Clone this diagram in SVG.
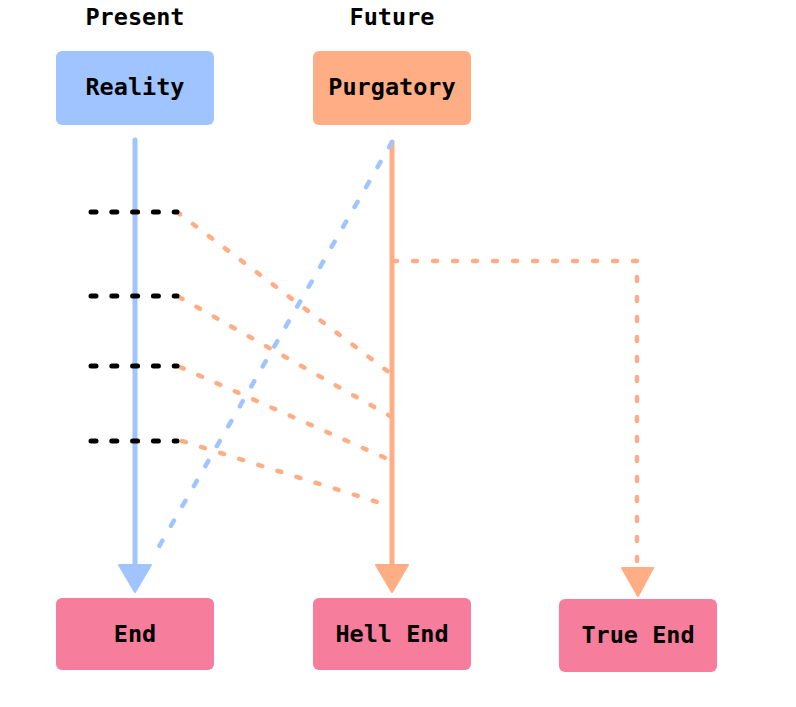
<svg xmlns="http://www.w3.org/2000/svg" width="796" height="707" viewBox="0 0 796 707">
<style>
  .lbl { font-family: "DejaVu Sans Mono", "Liberation Mono", monospace; font-weight: bold; font-size: 23.5px; fill: #000; text-anchor: middle; }
  .blue { fill: #A0C4FF; }
  .orange { fill: #FFAD85; }
  .pink { fill: #F67D9C; }
  .dots { stroke: #000; stroke-width: 5; stroke-linecap: round; stroke-dasharray: 5 15.8; fill: none; }
  .odash { stroke: #FFAD85; stroke-width: 4.5; stroke-linecap: round; stroke-dasharray: 4 16; fill: none; }
  .bdash { stroke: #A0C4FF; stroke-width: 4.5; stroke-linecap: round; stroke-dasharray: 6 17; fill: none; }
</style>
<rect width="796" height="707" fill="#fff"/>
<g id="headers">
  <text class="lbl" x="135" y="25">Present</text>
  <text class="lbl" x="392" y="25">Future</text>
</g>
<g id="reality"><rect class="blue" x="56" y="51" width="158" height="74" rx="6"/><text class="lbl" x="135" y="95">Reality</text></g>
<g id="purgatory"><rect class="orange" x="313" y="51" width="158" height="74" rx="6"/><text class="lbl" x="392" y="95">Purgatory</text></g>
<g id="end"><rect class="pink" x="56" y="598" width="158" height="72" rx="6"/><text class="lbl" x="135" y="642">End</text></g>
<g id="hellend"><rect class="pink" x="313" y="598" width="158" height="72" rx="6"/><text class="lbl" x="392" y="642">Hell End</text></g>
<g id="trueend"><rect class="pink" x="559" y="599" width="158" height="73" rx="6"/><text class="lbl" x="638" y="643">True End</text></g>
<g id="connectors">
  <line x1="135" y1="140" x2="135" y2="566" stroke="#A0C4FF" stroke-width="5" stroke-linecap="round"/>
  <polygon points="119,565 151,565 135,592" fill="#A0C4FF" stroke="#A0C4FF" stroke-width="2" stroke-linejoin="round"/>
  <path class="odash" d="M177,212 L390,373"/>
  <path class="odash" d="M179,297 L390,416"/>
  <path class="odash" d="M180,367 L390,460"/>
  <path class="odash" d="M182,441 L390,506"/>
  <path class="odash" d="M393,261 L637,261 L637,566"/>
  <polygon points="622,568 653,568 638,596" fill="#FFAD85" stroke="#FFAD85" stroke-width="2" stroke-linejoin="round"/>
  <line x1="392" y1="142" x2="392" y2="566" stroke="#FFAD85" stroke-width="5" stroke-linecap="round"/>
  <polygon points="376,565 408,565 392,592" fill="#FFAD85" stroke="#FFAD85" stroke-width="2" stroke-linejoin="round"/>
  <path class="bdash" d="M392,142 L153,557"/>
  <path class="dots" d="M91,212 L177,212"/>
  <path class="dots" d="M91,296 L177,296"/>
  <path class="dots" d="M91,366 L177,366"/>
  <path class="dots" d="M91,441 L177,441"/>
</g>
</svg>
